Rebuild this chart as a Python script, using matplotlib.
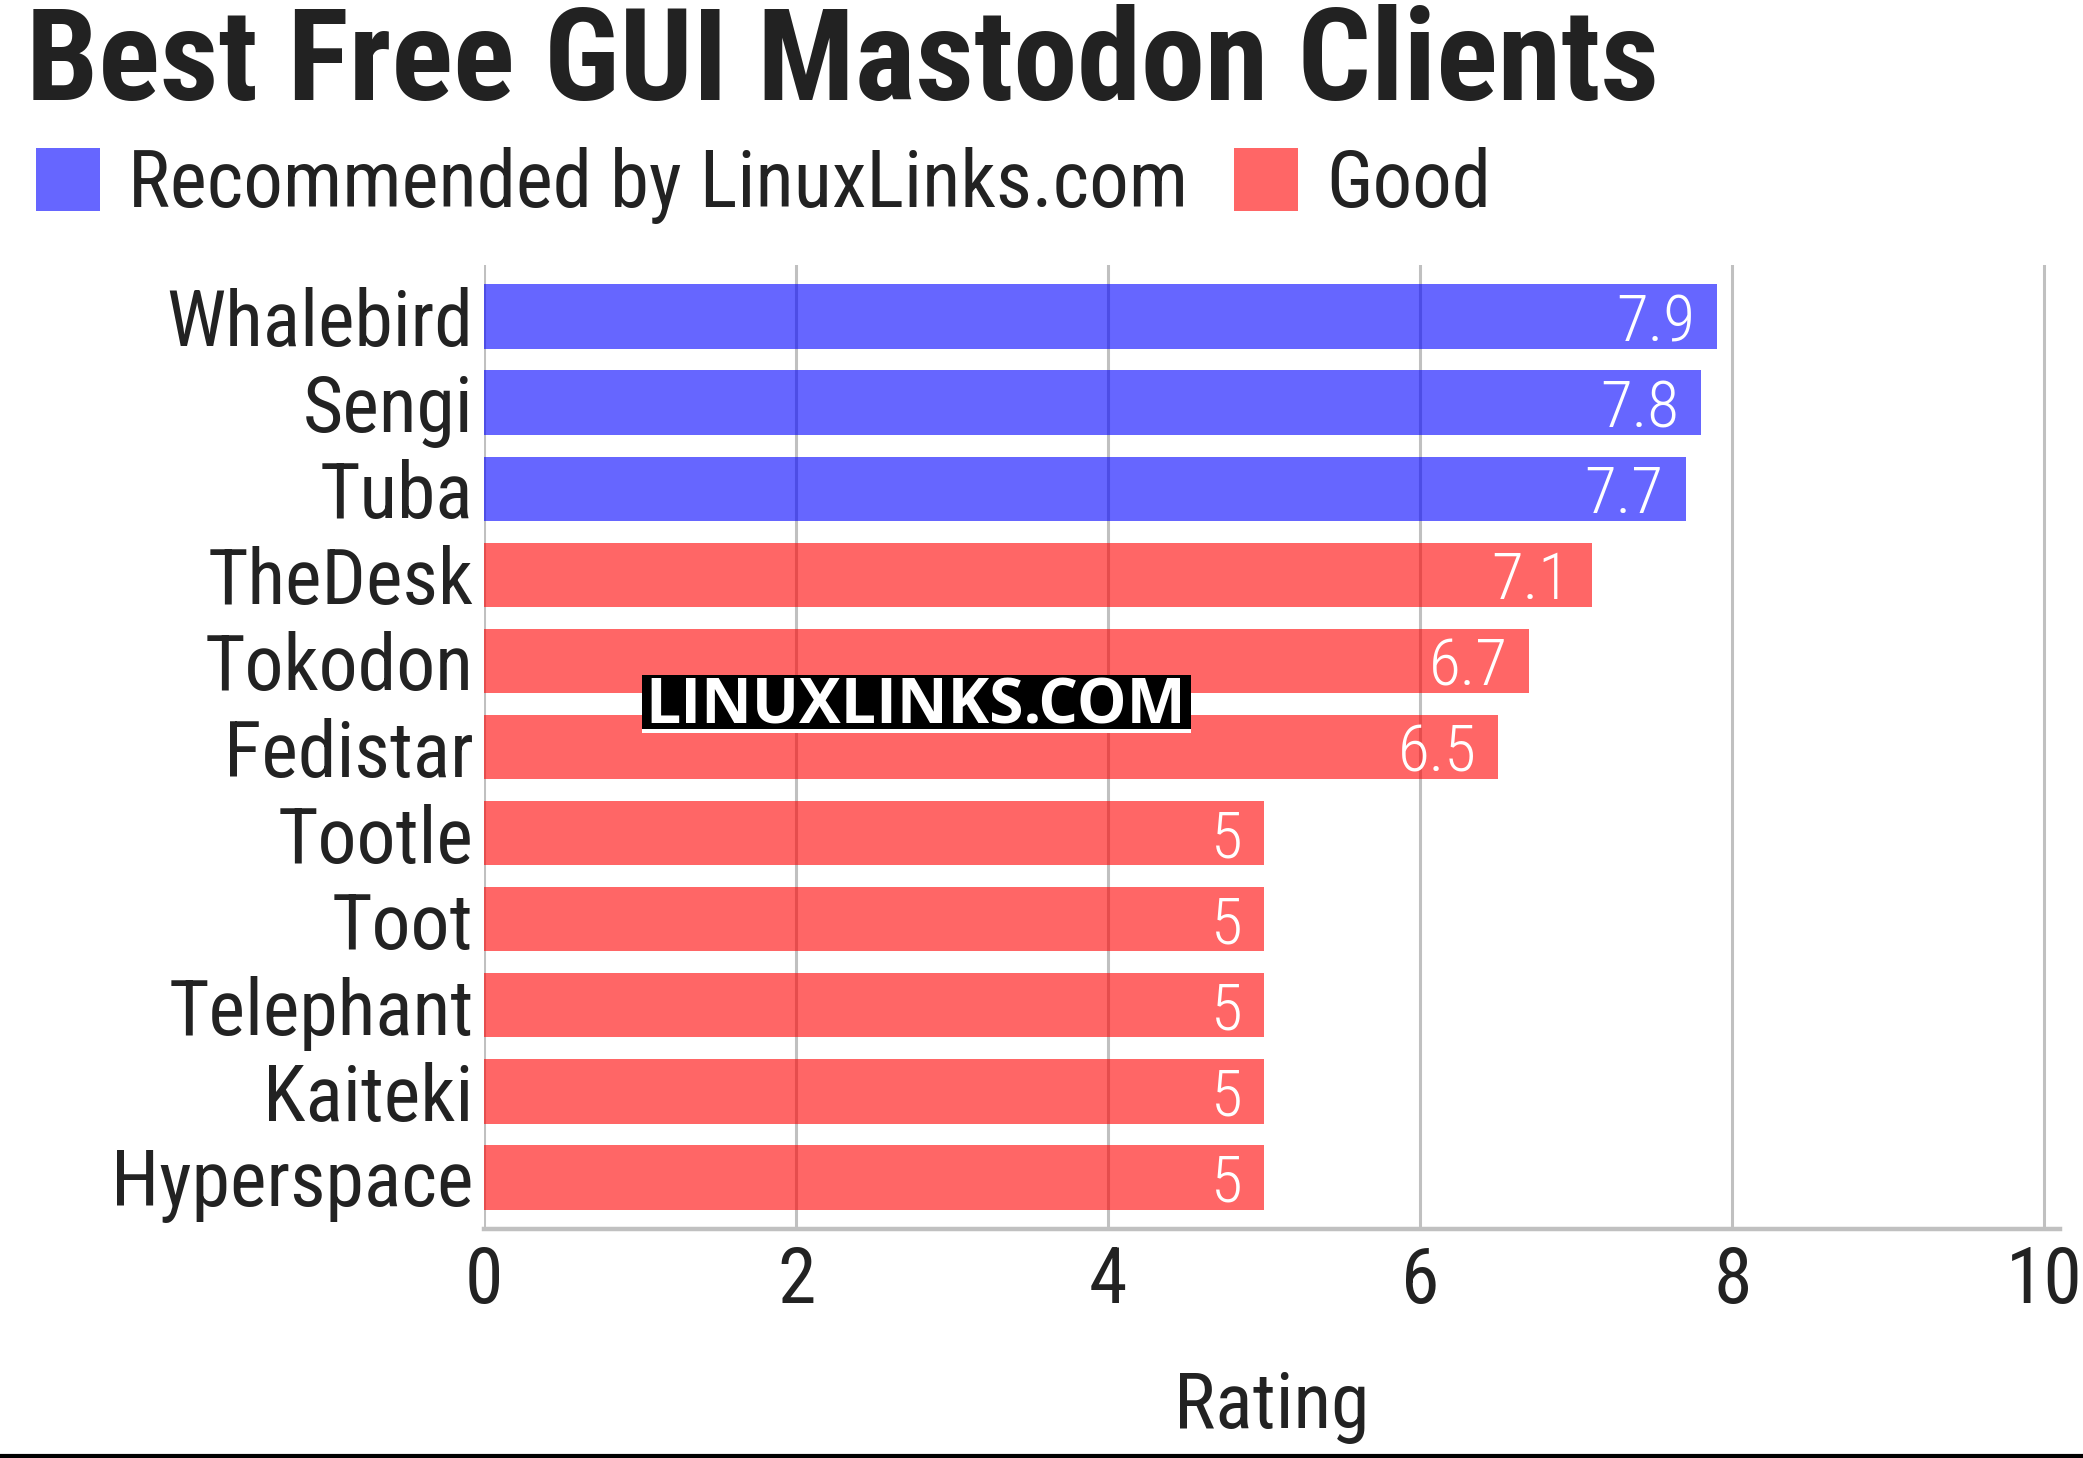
import matplotlib
matplotlib.use("Agg")
import matplotlib.pyplot as plt
from matplotlib.patches import Patch, Rectangle
from matplotlib.lines import Line2D

# data
clients = ['Whalebird', 'Sengi', 'Tuba', 'TheDesk', 'Tokodon', 'Fedistar',
           'Tootle', 'Toot', 'Telephant', 'Kaiteki', 'Hyperspace']
ratings = [7.9, 7.8, 7.7, 7.1, 6.7, 6.5, 5, 5, 5, 5, 5]
recommended = [True, True, True, False, False, False, False, False, False, False, False]
legend_labels = ['Recommended by LinuxLinks.com', 'Good']
x_ticks = [0, 2, 4, 6, 8, 10]

BLUE = '#0000ff'
RED = '#ff0000'
TXT = '#222222'
GRID = '#c0c0c0'

plt.rcParams['font.family'] = ['Roboto Condensed', 'Liberation Sans Narrow', 'Roboto', 'DejaVu Sans']

W, H = 2083, 1458
fig = plt.figure(figsize=(W / 100, H / 100), dpi=100)
ax = fig.add_axes([484 / W, 1 - 1229 / H, (2060 - 484) / W, (1229 - 265) / H])

colors = [BLUE if r else RED for r in recommended]
ypos = list(range(len(clients)))
ax.barh(ypos, ratings, height=0.75, color=colors, alpha=0.6, zorder=2)

# value labels inside bar ends
for y, v in zip(ypos, ratings):
    ax.text(v - 0.14, y, f"{v:g}", ha='right', va='center_baseline',
            color='white', fontsize=47, fontweight='light', zorder=3)

ax.set_xlim(0, 10.1)
ax.set_ylim(len(clients) - 0.4, -0.6)
ax.set_xticks(x_ticks)
ax.set_yticks(ypos)
ax.set_yticklabels(clients)
ax.tick_params(axis='both', length=0, labelsize=56, labelcolor=TXT)
ax.tick_params(axis='y', pad=7.5)
ax.tick_params(axis='x', pad=11)
ax.grid(axis='x', color=GRID, linewidth=2.2, zorder=1)
ax.set_axisbelow(True)
for s in ['left', 'right', 'top']:
    ax.spines[s].set_visible(False)
ax.spines['bottom'].set_color(GRID)
ax.spines['bottom'].set_linewidth(3.2)
ax.set_xlabel('Rating', fontsize=56, color=TXT, labelpad=36)

# title
fig.text(26 / W, 1 - 100 / H, 'Best Free GUI Mastodon Clients', fontsize=92.5,
         fontweight='bold', color=TXT, ha='left', va='baseline')

# legend
handles = [Patch(facecolor=BLUE, alpha=0.6), Patch(facecolor=RED, alpha=0.6)]
fig.legend(handles, legend_labels, loc='upper left', bbox_to_anchor=(36 / W, 1 - 147 / H),
           ncol=2, frameon=False, fontsize=56.8, handlelength=0.81, handleheight=0.86,
           handletextpad=0.36, columnspacing=0.58, borderpad=0, borderaxespad=0,
           labelcolor=TXT)

# watermark
fig.add_artist(Rectangle((642 / W, 1 - 729 / H), (1191 - 642) / W, (729 - 675) / H,
                         transform=fig.transFigure, facecolor='black', edgecolor='none', zorder=5))
fig.add_artist(Rectangle((642 / W, 1 - 733 / H), (1191 - 642) / W, 4 / H,
                         transform=fig.transFigure, facecolor='white', edgecolor='none', zorder=5))
fig.text(916 / W, 1 - 723 / H, 'LINUXLINKS.COM', family=['Open Sans', 'DejaVu Sans'],
         fontweight='bold', fontsize=45, color='white', ha='center', va='baseline',
         zorder=6)

# bottom rule
fig.add_artist(Line2D([0, 1], [2 / H, 2 / H], transform=fig.transFigure, color='black', linewidth=3))

fig.savefig('out.png', dpi=100)
